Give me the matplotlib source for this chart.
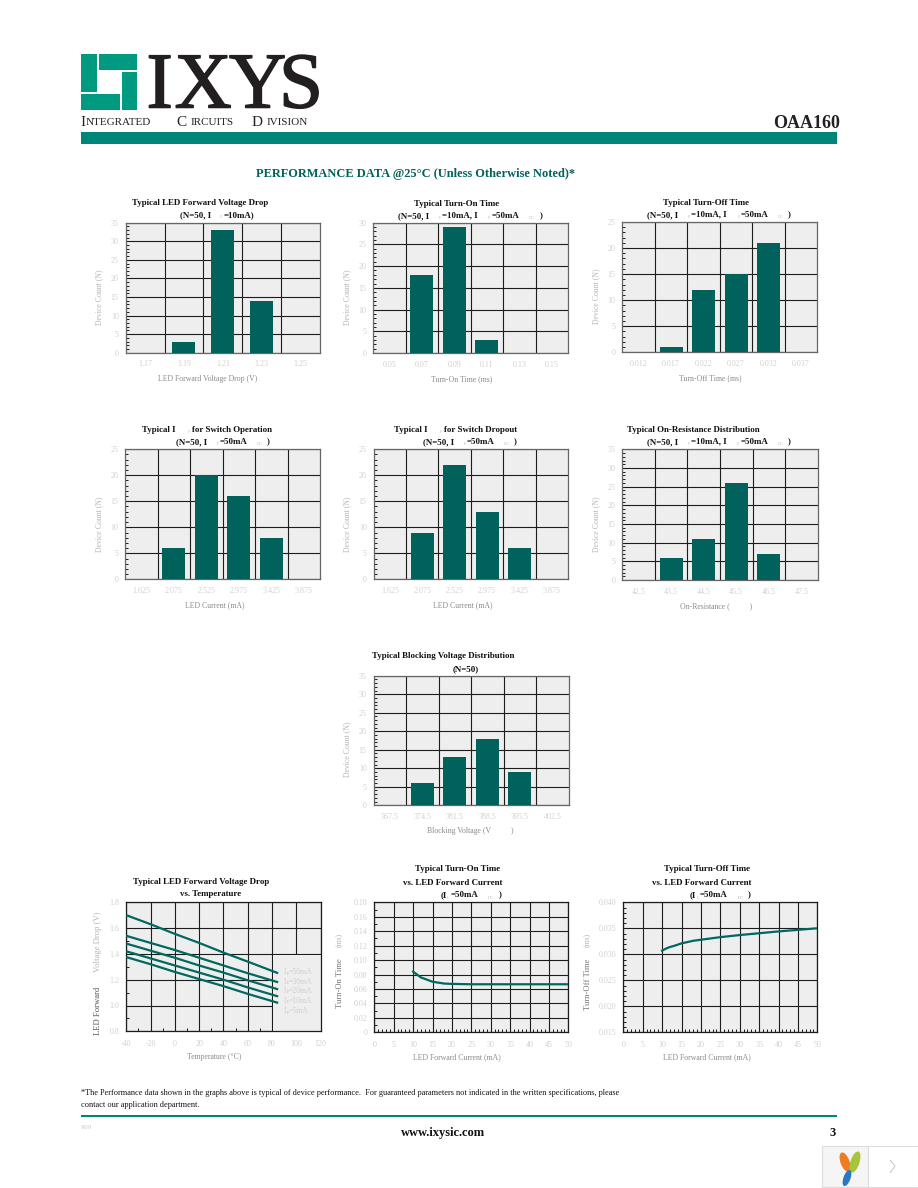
import matplotlib
matplotlib.use("Agg")
import matplotlib.pyplot as plt
import matplotlib.patheffects as pe
from matplotlib.patches import Rectangle, Ellipse, Polygon
from matplotlib.ticker import MultipleLocator

# ---------- data ----------
led_drop_cats = ["1.17", "1.19", "1.21", "1.23", "1.25"]
led_drop_vals = [0, 3, 33, 14, 0]
ton_cats = ["0.05", "0.07", "0.09", "0.11", "0.13", "0.15"]
ton_vals = [0, 18, 29, 3, 0, 0]
toff_cats = ["0.012", "0.017", "0.022", "0.027", "0.032", "0.037"]
toff_vals = [0, 1, 12, 15, 21, 0]
led_cur_cats = ["1.625", "2.075", "2.525", "2.975", "3.425", "3.875"]
ifon_vals = [0, 6, 20, 16, 8, 0]
ifdrop_vals = [0, 9, 22, 13, 6, 0]
ron_cats = ["42.5", "43.5", "44.5", "45.5", "46.5", "47.5"]
ron_vals = [0, 6, 11, 26, 7, 0]
vb_cats = ["367.5", "374.5", "381.5", "388.5", "395.5", "402.5"]
vb_vals = [0, 6, 13, 18, 9, 0]

temp_x = [-40, -20, 0, 20, 40, 60, 85]
vf_50 = [1.70, 1.63, 1.555, 1.485, 1.41, 1.34, 1.25]
vf_30 = [1.54, 1.485, 1.43, 1.37, 1.31, 1.25, 1.18]
vf_20 = [1.48, 1.425, 1.37, 1.31, 1.255, 1.195, 1.125]
vf_10 = [1.42, 1.365, 1.31, 1.255, 1.20, 1.14, 1.07]
vf_5 = [1.375, 1.32, 1.26, 1.205, 1.15, 1.09, 1.02]
vf_labels = ["=50mA", "=30mA", "=20mA", "=10mA", "=5mA"]

if_x = [10, 11, 12, 13, 15, 18, 20, 25, 30, 40, 50]
ton_curve = [0.084, 0.080, 0.076, 0.074, 0.070, 0.0675, 0.067, 0.0665, 0.0665, 0.0665, 0.0665]
toff_curve = [0.0307, 0.0311, 0.0314, 0.0316, 0.0321, 0.0326, 0.0328, 0.0333, 0.0337, 0.0344, 0.0350]

temp_ticks = [-40, -20, 0, 20, 40, 60, 80, 100, 120]
vf_ticks = [0.8, 1.0, 1.2, 1.4, 1.6, 1.8]
vf_ticklabels = ["0.8", "1.0", "1.2", "1.4", "1.6", "1.8"]
if_ticks = [0, 5, 10, 15, 20, 25, 30, 35, 40, 45, 50]
ton_ticks = [0, 0.02, 0.04, 0.06, 0.08, 0.10, 0.12, 0.14, 0.16, 0.18]
ton_ticklabels = ["0", "0.02", "0.04", "0.06", "0.08", "0.10", "0.12", "0.14", "0.16", "0.18"]
toff_ticks = [0.015, 0.020, 0.025, 0.030, 0.035, 0.040]
toff_ticklabels = ["0.015", "0.020", "0.025", "0.030", "0.035", "0.040"]

# ---------- style ----------
W, H = 918, 1188
SERIF = "Liberation Serif"
TEAL_BAR = "#00625a"
TEAL_BAND = "#00857a"
TEAL_LOGO = "#009a80"
TEAL_LINE = "#00695f"
PANEL = "#eeeeee"
GRID = "#1c1c1c"
TICK_GREY = "#d0d0d0"
LABEL_GREY = "#8a8a8a"
YLABEL_GREY = "#b4b4b4"
BAR_PX = 23

plt.rcParams["font.family"] = SERIF
fig = plt.figure(figsize=(W / 100, H / 100), dpi=100, facecolor="white")
ov = fig.add_axes([0, 0, 1, 1], zorder=5)
ov.set_xlim(0, W)
ov.set_ylim(H, 0)
ov.axis("off")


def T(x, y, s, size=6.4, bold=True, color="#111111", ha="left", **kw):
    em = size * 100 / 72
    ov.text(x, y + 0.33 * em, s, fontsize=size, ha=ha, va="baseline", color=color,
            fontweight="bold" if bold else "normal", family=SERIF, **kw)


def sub(x, y, s):
    T(x, y + 3, s, size=3.2, bold=False, color="#bbbbbb")


def make_axes(box, border):
    l, t, r, b = box
    ax = fig.add_axes([l / W, 1 - b / H, (r - l) / W, (b - t) / H], facecolor=PANEL)
    for s in ax.spines.values():
        s.set_color(border)
        s.set_linewidth(0.9)
    ax.set_axisbelow(True)
    return ax


def bar_chart(box, cats, vals, ymax):
    ax = make_axes(box, "#666666")
    n = len(cats)
    px = (box[2] - box[0]) / n
    pos = list(range(n))
    ax.bar(pos, vals, width=BAR_PX / px, color=TEAL_BAR, zorder=3)
    ax.set_xlim(-0.5, n - 0.5)
    ax.set_ylim(0, ymax)
    ax.set_xticks(pos, cats)
    ax.set_xticks([p + 0.5 for p in pos[:-1]], minor=True)
    ax.yaxis.set_major_locator(MultipleLocator(5))
    ax.yaxis.set_minor_locator(MultipleLocator(1))
    ax.grid(which="minor", axis="x", color=GRID, lw=0.8)
    ax.grid(which="major", axis="y", color=GRID, lw=0.8)
    ax.tick_params(which="major", axis="both", length=0, labelsize=5.8, labelcolor=TICK_GREY)
    ax.tick_params(which="major", axis="x", pad=5.5)
    ax.tick_params(which="major", axis="y", pad=5)
    ax.tick_params(which="minor", axis="x", length=0)
    ax.tick_params(which="minor", axis="y", length=2.2, width=0.7, direction="in", color=GRID)
    return ax


def line_axes(box, xt, xl, yt, yl, xminor, yminor):
    ax = make_axes(box, GRID)
    ax.set_xlim(xt[0], xt[-1])
    ax.set_ylim(yt[0], yt[-1])
    ax.set_xticks(xt, xl)
    ax.set_yticks(yt, yl)
    ax.xaxis.set_minor_locator(MultipleLocator(xminor))
    ax.yaxis.set_minor_locator(MultipleLocator(yminor))
    ax.grid(which="major", color=GRID, lw=0.8)
    ax.tick_params(which="major", axis="both", length=0, labelsize=5.8, labelcolor=TICK_GREY)
    ax.tick_params(which="major", axis="x", pad=6)
    ax.tick_params(which="major", axis="y", pad=5)
    ax.tick_params(which="minor", length=2, width=0.7, direction="in", color=GRID)
    return ax


def ylabel(x, y, s, color=YLABEL_GREY, size=5.6):
    ov.text(x, y, s, rotation=90, fontsize=size, color=color, ha="center", va="center", family=SERIF)


def xlabel(x, y, s):
    ov.text(x, y, s, fontsize=5.6, color=LABEL_GREY, ha="center", va="center", family=SERIF)


# ---------- bar charts ----------
bar_chart((125.7, 222.7, 320, 352.7), led_drop_cats, led_drop_vals, 35)
bar_chart((373.3, 222.7, 568, 353), ton_cats, ton_vals, 30)
bar_chart((622.3, 222, 817.3, 352.3), toff_cats, toff_vals, 25)
bar_chart((125.3, 449.3, 320, 579.3), led_cur_cats, ifon_vals, 25)
bar_chart((373.7, 449.3, 568, 579.3), led_cur_cats, ifdrop_vals, 25)
bar_chart((622.3, 449.3, 817.7, 580), ron_cats, ron_vals, 35)
bar_chart((373.7, 675.7, 568.7, 805.3), vb_cats, vb_vals, 35)

# ---------- line charts ----------
a8 = line_axes((126.3, 902.3, 320.7, 1031.3), temp_ticks, [str(v) for v in temp_ticks],
               vf_ticks, vf_ticklabels, 10, 0.1)
a8.add_patch(Rectangle((80.6, 0.8), 39.4, 0.595, facecolor=PANEL, edgecolor="none", zorder=1))
for series in (vf_50, vf_30, vf_20, vf_10, vf_5):
    a8.plot(temp_x, series, color=TEAL_LINE, lw=1.6, solid_capstyle="butt", zorder=3)

a9 = line_axes((374.3, 902.3, 568.3, 1032.3), if_ticks, [str(v) for v in if_ticks],
               ton_ticks, ton_ticklabels, 1, 0.01)
a9.plot(if_x, ton_curve, color=TEAL_LINE, lw=1.6, zorder=3)

a10 = line_axes((623.3, 902.3, 817.3, 1032.3), if_ticks, [str(v) for v in if_ticks],
                toff_ticks, toff_ticklabels, 1, 0.001)
a10.plot(if_x, toff_curve, color=TEAL_LINE, lw=1.6, zorder=3)

for y, lab in zip((971.7, 981, 990, 1000, 1010.7), vf_labels):
    T(284, y, "I", size=5.6, bold=False, color=TICK_GREY)
    sub(287, y - 1, "F")
    T(289, y, lab, size=5.6, bold=False, color=TICK_GREY)

# ---------- chart titles ----------
T(131.7, 201.7, "Typical LED Forward Voltage Drop")
T(180, 214, "(N=50, I"); sub(220, 214, "F"); T(223.7, 214, "=10mA)")

T(414.3, 202.7, "Typical Turn-On Time")
T(398, 215, "(N=50, I"); sub(439, 215, "F"); T(441.7, 215, "=10mA, I"); sub(488, 215, "F")
T(491.7, 215, "=50mA"); sub(529, 215, "DC"); T(540, 215, ")")

T(663, 201.7, "Typical Turn-Off Time")
T(647, 214, "(N=50, I"); sub(688, 214, "F"); T(690.7, 214, "=10mA, I"); sub(737.7, 214, "F")
T(740.7, 214, "=50mA"); sub(778, 214, "DC"); T(788, 214, ")")

T(142, 428.7, "Typical I"); sub(188, 428.7, "F"); T(192.3, 428.7, "for Switch Operation")
T(176, 441, "(N=50, I"); sub(216.7, 441, "F"); T(219.7, 441, "=50mA"); sub(257, 441, "DC"); T(266.7, 441, ")")

T(394, 428.7, "Typical I"); sub(440, 428.7, "F"); T(444, 428.7, "for Switch Dropout")
T(422.7, 441, "(N=50, I"); sub(464, 441, "F"); T(466.7, 441, "=50mA"); sub(504, 441, "DC"); T(514, 441, ")")

T(626.7, 428.7, "Typical On-Resistance Distribution")
T(647.3, 441, "(N=50, I"); sub(688, 441, "F"); T(690.7, 441, "=10mA, I"); sub(736.7, 441, "F")
T(740.3, 441, "=50mA"); sub(778, 441, "DC"); T(788, 441, ")")

T(372.3, 654.7, "Typical Blocking Voltage Distribution")
T(453, 668, "(N=50)")

T(132.7, 880.7, "Typical LED Forward Voltage Drop")
T(180.3, 893.3, "vs. Temperature")

T(415, 868.3, "Typical Turn-On Time")
T(403.3, 881.7, "vs. LED Forward Current")
T(440.7, 894.3, "(I"); sub(447, 894.3, "L"); T(450.7, 894.3, "=50mA"); sub(488, 894.3, "DC"); T(498.3, 894.3, ")")

T(664.3, 868.3, "Typical Turn-Off Time")
T(652.3, 881.7, "vs. LED Forward Current")
T(690, 894.3, "(I"); sub(696.5, 894.3, "L"); T(700, 894.3, "=50mA"); sub(737.5, 894.3, "DC"); T(747.3, 894.3, ")")

# ---------- axis titles ----------
xlabel(208, 379, "LED Forward Voltage Drop (V)")
xlabel(461.7, 379, "Turn-On Time (ms)")
xlabel(710, 378, "Turn-Off Time (ms)")
xlabel(214.3, 604.7, "LED Current (mA)")
xlabel(462.7, 604.7, "LED Current (mA)")
xlabel(716, 605.7, "On-Resistance (          )")
xlabel(470, 831, "Blocking Voltage (V          )")
xlabel(213.7, 1056.7, "Temperature (°C)")
xlabel(457, 1056.7, "LED Forward Current (mA)")
xlabel(707, 1056.7, "LED Forward Current (mA)")

for x, y in ((99, 297), (346.7, 297), (596, 296), (99, 524), (347.3, 524), (596, 524), (346.7, 749)):
    ylabel(x, y, "Device Count (N)")
ylabel(97.7, 1011, "LED Forward", color="#555555", size=6.2)
ylabel(97.7, 942, "Voltage Drop (V)", color=YLABEL_GREY, size=6.2)
ylabel(340, 983, "Turn-On Time", color="#777777", size=6.2)
ylabel(340, 940, "(ms)", color=YLABEL_GREY, size=5.6)
ylabel(588, 984, "Turn-Off Time", color="#777777", size=6.2)
ylabel(588, 940, "(ms)", color=YLABEL_GREY, size=5.6)

# ---------- page header ----------
for x0, y0, x1, y1 in ((81, 54, 96.7, 91.7), (99, 54, 137, 70), (121.7, 71.7, 137, 110), (81, 94, 120, 110)):
    ov.add_patch(Rectangle((x0, y0), x1 - x0, y1 - y0, facecolor=TEAL_LOGO, edgecolor="none"))
for x, ch in ((146.5, "I"), (174.5, "X"), (229, "Y"), (279, "S")):
    ov.text(x, 107.5, ch, fontsize=57, color="#231f20", family=SERIF, va="baseline", ha="left",
            path_effects=[pe.withStroke(linewidth=1.1, foreground="#231f20")])

for x, s, size, base in ((80, "I", 11, 126), (85.3, "NTEGRATED", 8, 125), (176, "C", 11, 126),
                         (190.7, "IRCUITS", 8, 125), (251.7, "D", 11, 126), (266.7, "IVISION", 8, 125)):
    ov.text(x, base, s, fontsize=size, color="#222222", family=SERIF, va="baseline", ha="left")
T(772.7, 122.5, "OAA160", size=13, color="#222222")
ov.add_patch(Rectangle((81, 132), 756, 12, facecolor=TEAL_BAND, edgecolor="none"))
T(256, 173, "PERFORMANCE DATA @25°C (Unless Otherwise Noted)*", size=8.9, color=TEAL_BAR)

# ---------- footer ----------
T(81, 1092.3, "*The Performance data shown in the graphs above is typical of device performance.  "
  "For guaranteed parameters not indicated in the written specifications, please", size=5.93, bold=False)
T(81, 1104, "contact our application department.", size=5.93, bold=False)
ov.add_patch(Rectangle((81, 1115), 756, 2, facecolor=TEAL_BAND, edgecolor="none"))
T(81, 1126.7, "R09", size=4.8, bold=False, color="#c8c8c8")
T(401, 1132, "www.ixysic.com", size=9, color="#111111")
T(829, 1132, "3", size=9, color="#111111")

# ---------- corner widget ----------
ov.add_patch(Rectangle((822, 1146), 95.5, 41, facecolor="white", edgecolor="#dddddd", lw=0.8))
ov.add_patch(Rectangle((822, 1146), 46, 41, facecolor="#f5f5f5", edgecolor="#dddddd", lw=0.8))
ov.add_patch(Ellipse((845, 1162), 9, 20, angle=-20, facecolor="#ee7d22", edgecolor="none"))
ov.add_patch(Ellipse((855, 1162), 9, 22, angle=18, facecolor="#a8c43c", edgecolor="none"))
ov.add_patch(Ellipse((847, 1178), 7, 17, angle=20, facecolor="#2a78c0", edgecolor="none"))
ov.add_patch(Polygon([(890, 1160), (895, 1166), (890, 1173)], closed=False, fill=False,
                     edgecolor="#c4c4c4", lw=0.7))

fig.savefig("out.png", dpi=100)
